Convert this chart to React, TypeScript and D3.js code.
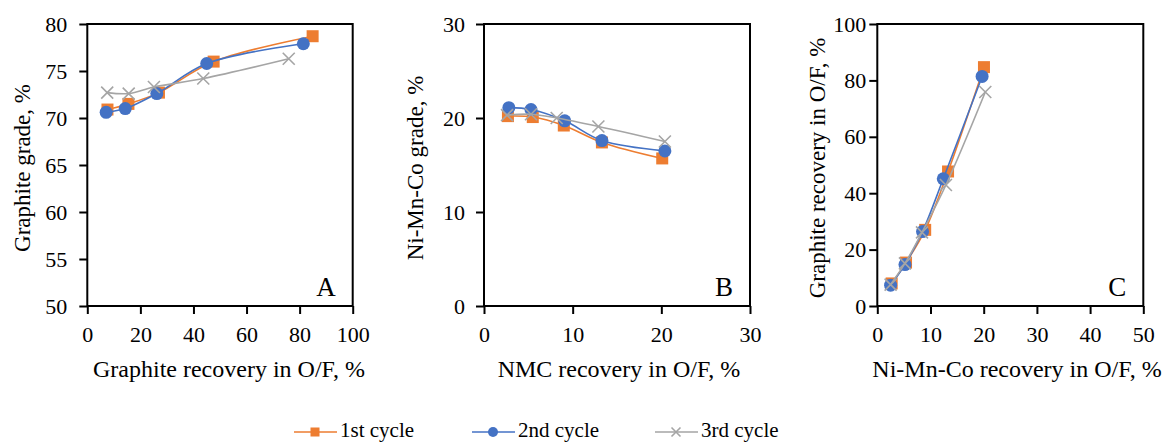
import React, { useRef, useEffect } from 'react';
import * as d3 from 'd3';

// Flotation results per cycle (A, B, C)
const seriesNames = ['1st cycle', '2nd cycle', '3rd cycle'];
const seriesColors = ['#ED7D31', '#4472C4', '#A5A5A5'];
const seriesMarkers = ['square', 'circle', 'cross'];

// Panel A: graphite recovery in O/F (x) vs graphite grade (y)
const aRecovery = [
  [7.6, 15.5, 27.0, 47.6, 84.9],
  [7.1, 14.3, 26.2, 45.0, 81.4],
  [7.5, 15.6, 25.1, 43.7, 75.9],
];
const aGrade = [
  [70.9, 71.5, 72.7, 76.0, 78.7],
  [70.6, 71.0, 72.6, 75.8, 77.9],
  [72.7, 72.6, 73.3, 74.2, 76.3],
];

// Panel B: NMC recovery in O/F (x) vs Ni-Mn-Co grade (y)
const bRecovery = [
  [2.7, 5.5, 9.0, 13.3, 20.1],
  [2.8, 5.3, 9.1, 13.3, 20.4],
  [2.6, 5.3, 8.2, 12.9, 20.4],
];
const bGrade = [
  [20.2, 20.1, 19.2, 17.4, 15.7],
  [21.1, 20.9, 19.7, 17.6, 16.5],
  [20.3, 20.4, 20.0, 19.1, 17.5],
];

// Panel C: Ni-Mn-Co recovery (x) vs graphite recovery (y)
const cNmcRecovery = [
  [2.7, 5.4, 9.0, 13.3, 20.05],
  [2.5, 5.2, 8.5, 12.4, 19.7],
  [2.5, 5.2, 8.4, 12.9, 20.3],
];
const cGraphiteRecovery = [
  [8.0, 15.4, 27.0, 47.7, 84.7],
  [7.4, 14.7, 26.4, 45.1, 81.4],
  [7.6, 15.1, 26.1, 42.9, 75.9],
];

const aXTicks = [0, 20, 40, 60, 80, 100];
const aYTicks = [50, 55, 60, 65, 70, 75, 80];
const bXTicks = [0, 10, 20, 30];
const bYTicks = [0, 10, 20, 30];
const cXTicks = [0, 10, 20, 30, 40, 50];
const cYTicks = [0, 20, 40, 60, 80, 100];

const FONT = "'Liberation Serif', 'Times New Roman', Times, serif";

export default function App() {
  const svgRef = useRef<SVGSVGElement | null>(null);

  useEffect(() => {
    document.body.style.margin = '0';
    if (!svgRef.current) return;
    const svg = d3.select(svgRef.current);
    svg.selectAll('*').remove();

    const panels = [
      {
        letter: 'A', xs: aRecovery, ys: aGrade, xTicks: aXTicks, yTicks: aYTicks,
        xRange: [87.3, 352.7], xTitle: 'Graphite recovery in O/F, %', yTitle: 'Graphite grade, %',
        xTitleX: 229, yTitleX: 22, yPad: 12,
      },
      {
        letter: 'B', xs: bRecovery, ys: bGrade, xTicks: bXTicks, yTicks: bYTicks,
        xRange: [484, 750], xTitle: 'NMC recovery in O/F, %', yTitle: 'Ni-Mn-Co grade, %',
        xTitleX: 619, yTitleX: 415, yPad: 11,
      },
      {
        letter: 'C', xs: cNmcRecovery, ys: cGraphiteRecovery, xTicks: cXTicks, yTicks: cYTicks,
        xRange: [877.3, 1143.3], xTitle: 'Ni-Mn-Co recovery in O/F, %', yTitle: 'Graphite recovery in O/F, %',
        xTitleX: 1017, yTitleX: 817, yPad: 3,
      },
    ];

    const top = 24;
    const bottom = 306;

    const drawMarker = (g: any, kind: string, color: string, x: number, y: number, s: number) => {
      if (kind === 'square') {
        g.append('rect')
          .attr('x', x - s / 2).attr('y', y - s / 2)
          .attr('width', s).attr('height', s)
          .attr('fill', color);
      } else if (kind === 'circle') {
        g.append('circle')
          .attr('cx', x).attr('cy', y).attr('r', s / 2 + 0.5)
          .attr('fill', color);
      } else {
        const h = s / 2;
        g.append('path')
          .attr('d', `M${x - h},${y - h}L${x + h},${y + h}M${x - h},${y + h}L${x + h},${y - h}`)
          .attr('stroke', color).attr('stroke-width', 1.6).attr('fill', 'none');
      }
    };

    panels.forEach(p => {
      const x = d3.scaleLinear()
        .domain([p.xTicks[0], p.xTicks[p.xTicks.length - 1]])
        .range(p.xRange);
      const y = d3.scaleLinear()
        .domain([p.yTicks[0], p.yTicks[p.yTicks.length - 1]])
        .range([bottom, top]);

      const g = svg.append('g');

      // x axis
      const gx = g.append('g')
        .attr('transform', `translate(0,${bottom})`)
        .call(d3.axisBottom(x).tickValues(p.xTicks).tickSize(8).tickPadding(12).tickSizeOuter(0));
      gx.attr('font-family', null);
      gx.select('.domain').remove();
      gx.selectAll('line').attr('stroke', '#000').attr('stroke-width', 2);
      gx.selectAll('text').attr('fill', '#000').style('font-family', FONT).style('font-size', '22px');

      // y axis
      const gy = g.append('g')
        .attr('transform', `translate(${p.xRange[0]},0)`)
        .call(d3.axisLeft(y).tickValues(p.yTicks).tickSize(8).tickPadding(p.yPad).tickSizeOuter(0));
      gy.attr('font-family', null);
      gy.select('.domain').remove();
      gy.selectAll('line').attr('stroke', '#000').attr('stroke-width', 2);
      gy.selectAll('text').attr('fill', '#000').style('font-family', FONT).style('font-size', '22px');

      // plot frame
      g.append('rect')
        .attr('x', p.xRange[0]).attr('y', top)
        .attr('width', p.xRange[1] - p.xRange[0]).attr('height', bottom - top)
        .attr('fill', 'none').attr('stroke', '#000').attr('stroke-width', 2);

      // series, drawn in order so later cycles sit on top
      p.xs.forEach((xv, si) => {
        const pts: [number, number][] = xv.map((v, i) => [x(v), y(p.ys[si][i])]);
        const path = d3.line().curve(d3.curveCatmullRom.alpha(0.5))(pts);
        g.append('path')
          .attr('d', path)
          .attr('fill', 'none')
          .attr('stroke', seriesColors[si])
          .attr('stroke-width', 1.6);
        pts.forEach(([px, py]) => drawMarker(g, seriesMarkers[si], seriesColors[si], px, py, 12));
      });

      // axis titles
      g.append('text')
        .attr('x', p.xTitleX).attr('y', 377)
        .attr('text-anchor', 'middle')
        .style('font-family', FONT).style('font-size', '24px')
        .text(p.xTitle);

      g.append('text')
        .attr('transform', `translate(${p.yTitleX},${(top + bottom) / 2 + 3}) rotate(-90)`)
        .attr('text-anchor', 'middle')
        .attr('dominant-baseline', 'central')
        .style('font-family', FONT).style('font-size', '23px')
        .text(p.yTitle);

      // panel letter
      g.append('text')
        .attr('x', p.xRange[1] - 17).attr('y', bottom - 10)
        .attr('text-anchor', 'end')
        .style('font-family', FONT).style('font-size', '27px')
        .text(p.letter);
    });

    // legend
    const legendX = [294, 472, 655];
    const legendY = 432;
    seriesNames.forEach((name, i) => {
      const lg = svg.append('g');
      lg.append('line')
        .attr('x1', legendX[i]).attr('x2', legendX[i] + 43)
        .attr('y1', legendY).attr('y2', legendY)
        .attr('stroke', seriesColors[i]).attr('stroke-width', 1.6);
      drawMarker(lg, seriesMarkers[i], seriesColors[i], legendX[i] + 21, legendY, 9);
      lg.append('text')
        .attr('x', legendX[i] + 46).attr('y', 437)
        .style('font-family', FONT).style('font-size', '21px')
        .text(name);
    });
  }, []);

  return (
    <svg ref={svgRef} width={1166} height={443} style={{ display: 'block', background: '#fff' }} />
  );
}
